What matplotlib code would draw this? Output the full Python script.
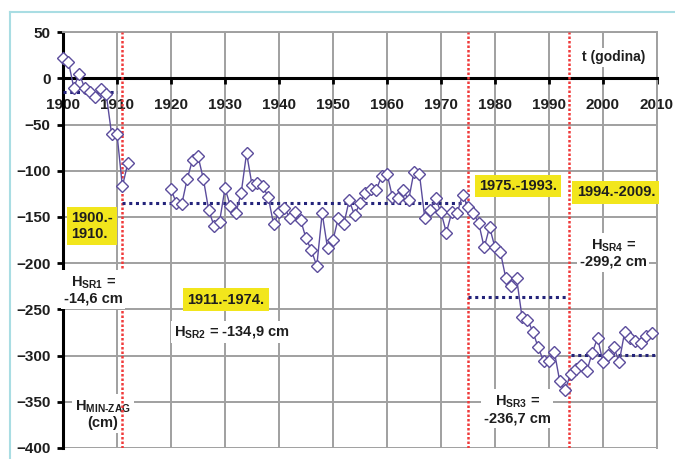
import numpy as np
import matplotlib.pyplot as plt
from matplotlib.lines import Line2D

plt.rcParams['font.family'] = ['Liberation Sans', 'DejaVu Sans']
plt.rcParams['font.weight'] = 'bold'
plt.rcParams['mathtext.fontset'] = 'custom'
plt.rcParams['mathtext.bf'] = 'Liberation Sans:bold'
plt.rcParams['mathtext.rm'] = 'Liberation Sans:bold'

# yearly minimum water level (cm), 1900-2009, no data 1913-1919
years = list(range(1900, 2010))
levels_1900_1912 = [22, 18, -10, 5, -10, -15, -20, -12, -17, -60, -60, -117, -92]
levels_1913_1919 = [np.nan] * 7
levels_1920_1953 = [-120, -135, -136, -109, -88, -84, -109, -143, -160, -155,
                    -119, -138, -146, -124, -81, -115, -113, -117, -128, -158,
                    -145, -140, -151, -145, -153, -173, -186, -203, -146, -184,
                    -175, -151, -158, -132]
levels_1954_1974 = [-148, -135, -124, -120, -121, -106, -103, -128, -130, -121,
                    -132, -101, -103, -151, -142, -130, -145, -167, -145, -146,
                    -126]
levels_1975_1993 = [-139, -146, -157, -183, -161, -183, -188, -216, -225, -216,
                    -258, -261, -274, -291, -306, -306, -296, -328, -337]
levels_1994_2009 = [-320, -315, -310, -317, -297, -281, -307, -299, -291, -307,
                    -275, -281, -284, -286, -279, -276]
levels = (levels_1900_1912 + levels_1913_1919 + levels_1920_1953
          + levels_1954_1974 + levels_1975_1993 + levels_1994_2009)

# period averages
period_start = [1900, 1911, 1975, 1994]
period_end = [1910, 1975, 1993.5, 2010]
period_mean = [-14.6, -134.9, -236.7, -299.2]
boundaries = [1911, 1975, 1993.7]

x_ticks = list(range(1900, 2011, 10))
y_ticks = list(range(-400, 51, 50))

purple = '#5b4c9c'
navy = '#23237a'
red = '#f03a3a'
yellow = '#f2e61c'
txt = '#1e1e1e'

fig = plt.figure(figsize=(6.75, 4.59), dpi=100)
ax = fig.add_axes([0.0933, 0.024, 0.880, 0.906])

ax.plot(years, levels, color=purple, lw=1, marker='D', markersize=6.5,
        markerfacecolor='white', markeredgecolor=purple, markeredgewidth=1,
        zorder=6, clip_on=False)

for s, e, m in zip(period_start, period_end, period_mean):
    ax.plot([s, e], [m, m], color=navy, lw=2.2, linestyle=(0, (1, 1.2)), zorder=5)

for b in boundaries:
    ax.axvline(b, color=red, lw=1.8, linestyle=(0, (1, 0.8)), zorder=4)

ax.set_xlim(1900, 2010)
ax.set_ylim(-400, 50)
ax.set_xticks(x_ticks)
ax.set_yticks(y_ticks)
ax.grid(True, color='#a0a0a0', lw=1.4, zorder=0)
ax.set_axisbelow(True)

ax.spines['bottom'].set_position(('data', 0))
ax.spines['bottom'].set_linewidth(2.2)
ax.spines['left'].set_linewidth(2.2)
for side in ['top', 'right']:
    ax.spines[side].set_color('#a0a0a0')
    ax.spines[side].set_linewidth(1.4)

ax.tick_params(axis='x', direction='out', length=4, width=2, pad=10,
               labelsize=11, labelcolor=txt)
ax.tick_params(axis='y', direction='out', length=4, width=2, pad=5,
               labelsize=11, labelcolor=txt)
for lab in ax.get_xticklabels() + ax.get_yticklabels():
    lab.set_fontweight('bold')

white = dict(facecolor='white', edgecolor='none', pad=2)
ybox = dict(facecolor=yellow, edgecolor='none', pad=3)
fs = 10.5

ax.text(2001.9, 22.6, 't (godina)', ha='center', va='center', fontsize=10,
        color=txt, bbox=white, zorder=3)

ax.text(1901.5, -160, '1900.-\n1910.', ha='left', va='center', fontsize=fs,
        color=txt, bbox=ybox, zorder=7, linespacing=1.15)
ax.text(1930.2, -239.5, '1911.-1974.', ha='center', va='center', fontsize=fs,
        color=txt, bbox=ybox, zorder=7)
ax.text(1984.3, -116.5, '1975.-1993.', ha='center', va='center', fontsize=fs,
        color=txt, bbox=ybox, zorder=7)
ax.text(2002.4, -123.5, '1994.-2009.', ha='center', va='center', fontsize=fs,
        color=txt, bbox=ybox, zorder=7)

ax.text(1905.6, -229, 'H$_{\\mathbf{SR1}}$ =\n-14,6 cm', ha='center', va='center',
        fontsize=fs, color=txt, bbox=white, zorder=7, linespacing=1.1)
ax.text(1931.3, -275, 'H$_{\\mathbf{SR2}}$ = -134,9 cm', ha='center', va='center',
        fontsize=fs, color=txt, bbox=white, zorder=7)
ax.text(1984.1, -358, 'H$_{\\mathbf{SR3}}$ =\n-236,7 cm', ha='center', va='center',
        fontsize=fs, color=txt, bbox=white, zorder=7, linespacing=1.1)
ax.text(2001.9, -189, 'H$_{\\mathbf{SR4}}$ =\n-299,2 cm', ha='center', va='center',
        fontsize=fs, color=txt, bbox=white, zorder=7, linespacing=1.1)
ax.text(1907.4, -363.5, 'H$_{\\mathbf{MIN\\text{-}ZAG}}$\n(cm)', ha='center',
        va='center', fontsize=fs, color=txt, bbox=white, zorder=3,
        linespacing=1.1)

# light blue frame of the original figure
fig.add_artist(Line2D([10 / 675, 1], [1 - 12 / 459, 1 - 12 / 459],
                      color='#a9dde3', lw=1.5))
fig.add_artist(Line2D([10 / 675, 10 / 675], [0, 1 - 12 / 459],
                      color='#a9dde3', lw=1.5))

fig.savefig('out.png', dpi=100)
